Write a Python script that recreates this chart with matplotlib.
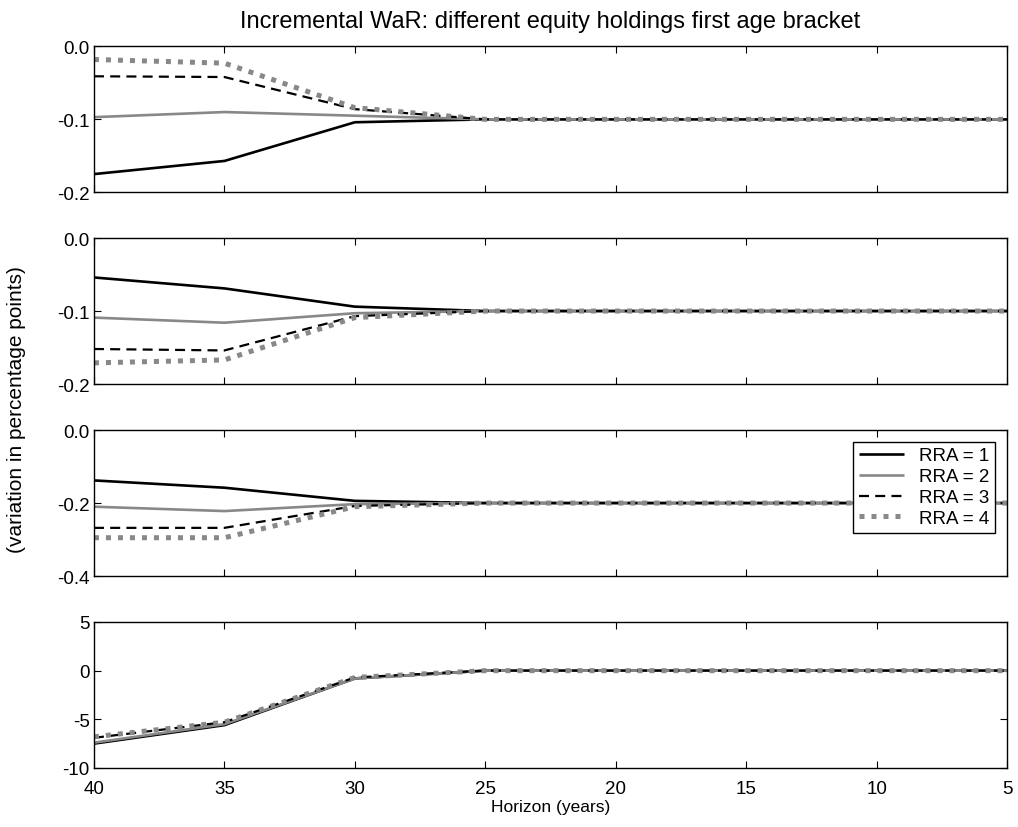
import matplotlib
matplotlib.use("Agg")
import matplotlib.pyplot as plt

plt.rcParams['font.family'] = ['Liberation Sans', 'DejaVu Sans']

horizon = [40, 35, 30, 25, 20, 15, 10, 5]
labels = ["RRA = 1", "RRA = 2", "RRA = 3", "RRA = 4"]

panel1 = [
    [-0.175, -0.157, -0.104, -0.100, -0.100, -0.100, -0.100, -0.100],
    [-0.097, -0.090, -0.095, -0.100, -0.100, -0.100, -0.100, -0.100],
    [-0.041, -0.042, -0.086, -0.100, -0.100, -0.100, -0.100, -0.100],
    [-0.018, -0.023, -0.084, -0.100, -0.100, -0.100, -0.100, -0.100],
]
panel2 = [
    [-0.054, -0.069, -0.094, -0.100, -0.100, -0.100, -0.100, -0.100],
    [-0.109, -0.116, -0.103, -0.100, -0.100, -0.100, -0.100, -0.100],
    [-0.152, -0.154, -0.107, -0.100, -0.100, -0.100, -0.100, -0.100],
    [-0.171, -0.167, -0.109, -0.100, -0.100, -0.100, -0.100, -0.100],
]
panel3 = [
    [-0.138, -0.158, -0.194, -0.200, -0.200, -0.200, -0.200, -0.200],
    [-0.210, -0.222, -0.203, -0.200, -0.200, -0.200, -0.200, -0.200],
    [-0.268, -0.268, -0.208, -0.200, -0.200, -0.200, -0.200, -0.200],
    [-0.295, -0.295, -0.210, -0.200, -0.200, -0.200, -0.200, -0.200],
]
panel4 = [
    [-7.5, -5.6, -0.8, 0.0, 0.0, 0.0, 0.0, 0.0],
    [-7.4, -5.5, -0.8, 0.0, 0.0, 0.0, 0.0, 0.0],
    [-6.9, -5.3, -0.7, 0.0, 0.0, 0.0, 0.0, 0.0],
    [-6.8, -5.3, -0.7, 0.0, 0.0, 0.0, 0.0, 0.0],
]
panels = [panel1, panel2, panel3, panel4]
ylims = [(-0.2, 0.0), (-0.2, 0.0), (-0.4, 0.0), (-10, 5)]
yticks = [[-0.2, -0.1, 0.0], [-0.2, -0.1, 0.0], [-0.4, -0.2, 0.0], [-10, -5, 0, 5]]
yticklabels = [["-0.2", "-0.1", "0.0"], ["-0.2", "-0.1", "0.0"], ["-0.4", "-0.2", "0.0"],
               ["-10", "-5", "0", "5"]]
xticks = [40, 35, 30, 25, 20, 15, 10, 5]

styles = [
    dict(color='black', lw=1.9, ls='-'),
    dict(color='#888888', lw=1.9, ls='-'),
    dict(color='black', lw=1.6, ls=(0, (4.5, 2.8))),
    dict(color='#888888', lw=3.6, ls=(0, (1, 1.4))),
]

fig = plt.figure(figsize=(10.18, 8.28), dpi=100)
left, width = 0.0923, 0.897
pos = [(0.7665, 0.1763), (0.535, 0.1763), (0.3031, 0.1763), (0.0713, 0.1763)]

for i, (data, (b, h)) in enumerate(zip(panels, pos)):
    ax = fig.add_axes([left, b, width, h])
    for s, lab, st in zip(data, labels, styles):
        ax.plot(horizon, s, label=lab, solid_capstyle='butt', dash_capstyle='butt', **st)
    ax.set_xlim(40, 5)
    ax.set_ylim(*ylims[i])
    ax.set_yticks(yticks[i])
    ax.set_yticklabels(yticklabels[i])
    ax.set_xticks(xticks)
    ax.tick_params(direction='in', top=True, right=True, labelsize=13.5, length=5, pad=3)
    ax.tick_params(axis='x', pad=9)
    for sp in ax.spines.values():
        sp.set_linewidth(1.0)
    if i < 3:
        ax.set_xticklabels([])
    else:
        ax.set_xticklabels([str(x) for x in xticks])
        ax.set_xlabel("Horizon (years)", fontsize=12.5, labelpad=1)
    if i == 0:
        ax.set_title("Incremental WaR: different equity holdings first age bracket",
                     fontsize=17, pad=14)
    if i == 2:
        leg = ax.legend(loc='upper right', bbox_to_anchor=(0.997, 0.985), fontsize=13.5,
                        fancybox=False, framealpha=1, edgecolor='black',
                        handlelength=2.4, borderpad=0.3, labelspacing=0.2,
                        handletextpad=0.8)
        leg.get_frame().set_linewidth(1.0)

fig.text(0.016, 0.505, "(variation in percentage points)", rotation=90,
         va='center', ha='center', fontsize=15)

fig.savefig("out.png", dpi=100)
